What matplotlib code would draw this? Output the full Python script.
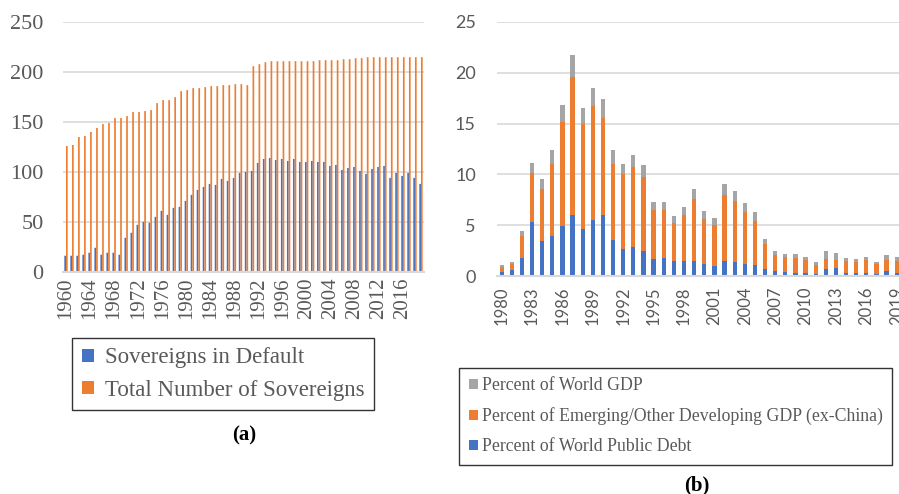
import matplotlib
matplotlib.use("Agg")
import matplotlib.pyplot as plt
import numpy as np

# ---------------- data: panel (a) ----------------
years_a = list(range(1960, 2020))
in_default = [16, 16, 16, 17, 19, 24, 17, 19, 19, 17,
              34, 39, 47, 50, 49, 55, 61, 57, 64, 65,
              71, 77, 82, 85, 88, 87, 93, 91, 94, 99,
              100, 101, 109, 113, 114, 112, 113, 111, 113, 110,
              110, 111, 110, 110, 106, 107, 102, 104, 105, 101,
              98, 103, 105, 106, 94, 99, 96, 99, 94, 88]
total_sov = [126, 127, 135, 136, 140, 144, 148, 149, 154, 154,
             156, 160, 160, 161, 162, 169, 172, 172, 175, 181,
             182, 184, 184, 185, 186, 186, 187, 187, 188, 188,
             187, 206, 208, 210, 211, 211, 211, 211, 211, 211,
             211, 211, 212, 212, 212, 212, 213, 213, 214, 214,
             215, 215, 215, 215, 215, 215, 215, 215, 215, 215]

# ---------------- data: panel (b) ----------------
years_b = list(range(1980, 2020))
pct_public_debt = [0.45, 0.65, 1.83, 5.37, 3.5, 4.0, 4.98, 6.06, 4.68, 5.54,
                   6.06, 3.6, 2.71, 2.85, 2.52, 1.73, 1.83, 1.53, 1.53, 1.5,
                   1.21, 1.04, 1.53, 1.37, 1.21, 1.13, 0.72, 0.52, 0.45, 0.35,
                   0.32, 0.26, 0.75, 0.82, 0.35, 0.32, 0.35, 0.26, 0.49, 0.35]
pct_em_gdp = [0.5, 0.6, 2.17, 4.76, 5.08, 7.07, 10.16, 13.47, 10.26, 11.18,
              9.44, 7.47, 7.32, 7.87, 7.21, 4.76, 4.66, 3.68, 4.47, 6.1,
              4.45, 4.0, 6.49, 6.03, 5.11, 4.33, 2.43, 1.57, 1.42, 1.48,
              1.31, 0.88, 0.98, 0.81, 1.18, 1.12, 1.25, 0.98, 1.14, 1.15]
pct_world_gdp = [0.15, 0.2, 0.45, 0.98, 1.02, 1.35, 1.67, 2.16, 1.58, 1.79,
                 1.9, 1.35, 1.04, 1.21, 1.18, 0.82, 0.82, 0.69, 0.81, 0.98,
                 0.79, 0.69, 1.08, 0.96, 0.88, 0.82, 0.49, 0.4, 0.32, 0.33,
                 0.3, 0.27, 0.73, 0.69, 0.3, 0.26, 0.33, 0.2, 0.49, 0.4]

BLUE = "#4472C4"
ORANGE = "#ED7D31"
GRAY = "#A5A5A5"
GRID = "#D9D9D9"
TXT = "#595959"
SERIF = "Liberation Serif"
SANS = "Lato"

W, H = 899, 494
fig = plt.figure(figsize=(W / 100, H / 100), dpi=100)


def px_axes(left, top, right, bottom):
    return fig.add_axes([left / W, 1 - bottom / H, (right - left) / W, (bottom - top) / H])


def style(ax):
    for s in ["left", "right", "top"]:
        ax.spines[s].set_visible(False)
    ax.spines["bottom"].set_color(GRID)
    ax.spines["bottom"].set_linewidth(1.5)
    ax.yaxis.grid(True, color=GRID, linewidth=1.2)
    ax.set_axisbelow(True)
    ax.tick_params(length=0)


############################ panel (a) ############################
ax1 = px_axes(63, 22.3, 424, 271.7)
style(ax1)
xa = np.arange(len(years_a))
bw = 0.28
b1 = ax1.bar(xa - bw / 2, in_default, width=bw, color=BLUE, snap=False, linewidth=0,
             label="Sovereigns in Default")
b2 = ax1.bar(xa + bw / 2, total_sov, width=bw, color=ORANGE, snap=False, linewidth=0,
             label="Total Number of Sovereigns")
ax1.set_xlim(-0.5, len(years_a) - 0.5)
ax1.set_ylim(0, 250)
ax1.set_yticks(range(0, 251, 50))
ax1.set_xticks(xa[::4])
ax1.set_xticklabels([str(y) for y in years_a[::4]], rotation=90)
ax1.tick_params(axis="y", pad=14, labelsize=16, labelcolor=TXT)
ax1.tick_params(axis="x", pad=4, labelsize=15, labelcolor=TXT)
for lab in ax1.get_xticklabels() + ax1.get_yticklabels():
    lab.set_family(SERIF)

leg1 = fig.legend(handles=[b1, b2], loc="upper left", bbox_to_anchor=(72 / W, 1 - 337.7 / H),
                  prop={"family": SERIF, "size": 16.5}, frameon=True, fancybox=False,
                  edgecolor="black", handlelength=0.52, handleheight=0.52,
                  handletextpad=0.48, labelspacing=0.5, borderpad=0.42, borderaxespad=0)
leg1.get_frame().set_linewidth(1.0)
for t in leg1.get_texts():
    t.set_color(TXT)

fig.text(244 / W, 1 - 435 / H, "(a)", family=SERIF, weight="bold", fontsize=15,
         ha="center", va="center")

############################ panel (b) ############################
ax2 = px_axes(496.6, 21.7, 901.8, 276.3)
style(ax2)
xb = np.arange(len(years_b))
bw2 = 0.42
p1 = ax2.bar(xb, pct_public_debt, width=bw2, color=BLUE, label="Percent of World Public Debt")
p2 = ax2.bar(xb, pct_em_gdp, width=bw2, bottom=pct_public_debt, color=ORANGE,
             label="Percent of Emerging/Other Developing GDP (ex-China)")
base = np.array(pct_public_debt) + np.array(pct_em_gdp)
p3 = ax2.bar(xb, pct_world_gdp, width=bw2, bottom=base, color=GRAY, label="Percent of World GDP")
ax2.set_xlim(-0.5, len(years_b) - 0.5)
ax2.set_ylim(0, 25)
ax2.set_yticks(range(0, 26, 5))
ax2.set_xticks(xb[::3])
ax2.set_xticklabels([str(y) for y in years_b[::3]], rotation=90)
ax2.tick_params(axis="y", pad=15, labelsize=13, labelcolor=TXT)
ax2.tick_params(axis="x", pad=7, labelsize=12, labelcolor=TXT)
for lab in ax2.get_xticklabels() + ax2.get_yticklabels():
    lab.set_family(SANS)

leg2 = fig.legend(handles=[p3, p2, p1], loc="upper left", bbox_to_anchor=(459 / W, 1 - 367.7 / H),
                  prop={"family": SERIF, "size": 12.8}, frameon=True, fancybox=False,
                  edgecolor="black", handlelength=0.5, handleheight=0.5,
                  handletextpad=0.22, labelspacing=0.72, borderpad=0.55, borderaxespad=0)
leg2.get_frame().set_linewidth(1.0)
for t in leg2.get_texts():
    t.set_color(TXT)

fig.text(697 / W, 1 - 485 / H, "(b)", family=SERIF, weight="bold", fontsize=15,
         ha="center", va="center")

fig.savefig("out.png", dpi=100)
